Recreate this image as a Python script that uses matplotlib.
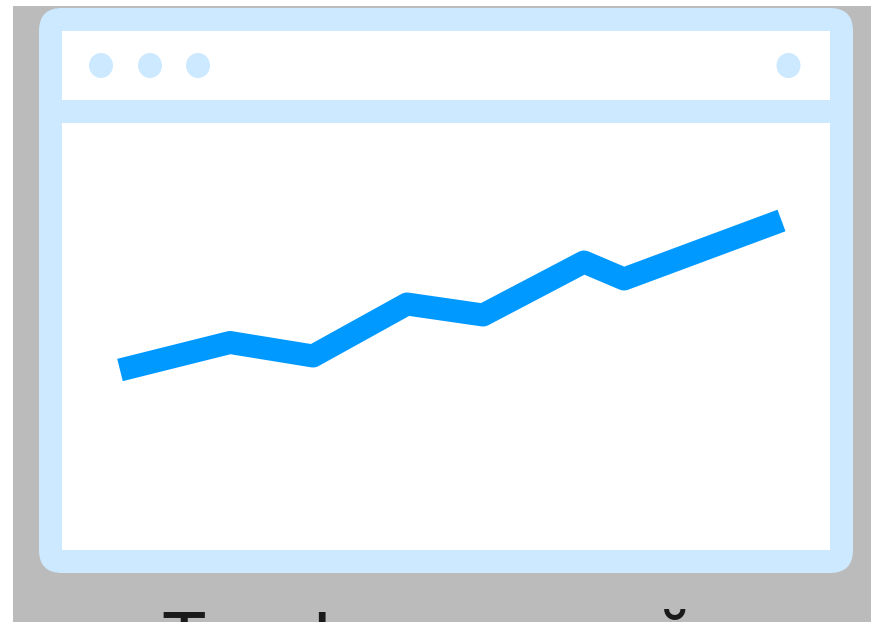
import matplotlib
matplotlib.use("Agg")
import matplotlib.pyplot as plt
from matplotlib.patches import FancyBboxPatch, Rectangle, Ellipse

W, H = 871, 622

# trend line (distance from panel left / panel bottom)
trend_x = [58, 168, 251, 345, 421, 522, 562, 719.5]
trend_y = [180, 207.5, 194, 246, 235, 288, 271, 329.5]

caption = "Трафик статей"

grey = "#bbbbbb"
light = "#cce9ff"
blue = "#0099ff"

fig = plt.figure(figsize=(W / 100, H / 100), dpi=100, facecolor="white")

# whole figure in pixels, y pointing down
bg = fig.add_axes([0, 0, 1, 1])
bg.set_xlim(0, W)
bg.set_ylim(H, 0)
bg.axis("off")

bg.add_patch(Rectangle((13, 6), W - 13, H - 6, fc=grey, ec="none"))
bg.add_patch(FancyBboxPatch((62, 31), 768, 519, boxstyle="round,pad=23,rounding_size=23",
                            fc=light, ec="none"))
bg.add_patch(Rectangle((62, 31), 768, 69, fc="white", ec="none"))
bg.add_patch(Rectangle((62, 123), 768, 427, fc="white", ec="none"))

for cx in [101, 150, 198, 788.5]:
    bg.add_patch(Ellipse((cx, 65.5), 24, 25, fc=light, ec="none"))

bg.text(160, 667, caption, family=["Inter", "DejaVu Sans"], fontsize=54, color="#1a1a1a",
        ha="left", va="baseline")

# chart panel
ax = fig.add_axes([62 / W, 1 - 550 / H, 768 / W, 427 / H])
ax.set_xlim(0, 768)
ax.set_ylim(0, 427)
ax.axis("off")
ax.plot(trend_x, trend_y, color=blue, lw=23 * 0.72, solid_capstyle="butt", solid_joinstyle="round")

fig.savefig("out.png", dpi=100)
